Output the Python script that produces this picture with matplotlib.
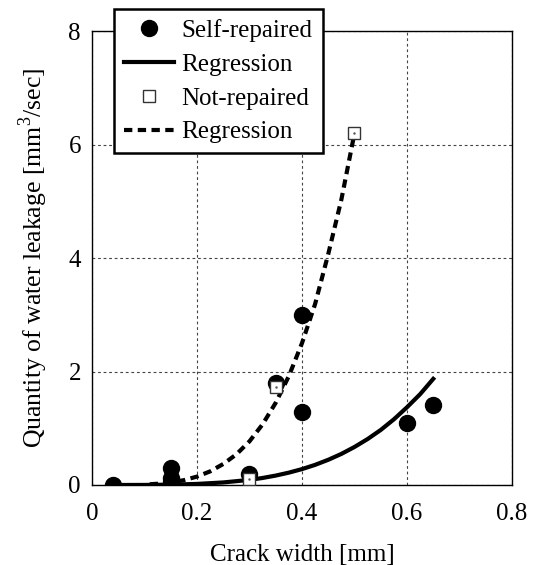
import matplotlib
matplotlib.use("Agg")
import matplotlib.pyplot as plt

plt.rcParams['font.family'] = ['Liberation Serif', 'DejaVu Serif']
plt.rcParams['mathtext.fontset'] = 'custom'
plt.rcParams['mathtext.rm'] = 'Liberation Serif'
plt.rcParams['font.size'] = 18

# Measured points (crack width [mm], leakage [mm3/sec])
self_x = [0.04, 0.15, 0.15, 0.15, 0.30, 0.35, 0.40, 0.40, 0.60, 0.65]
self_y = [0.0, 0.30, 0.12, 0.05, 0.19, 1.80, 3.00, 1.29, 1.10, 1.41]

not_x = [0.30, 0.35, 0.50]
not_y = [0.10, 1.72, 6.20]

# Regression curves
reg_self_x = [0.04, 0.10, 0.15, 0.20, 0.25, 0.30, 0.325, 0.35, 0.375, 0.40,
              0.425, 0.45, 0.475, 0.50, 0.525, 0.55, 0.575, 0.60, 0.625, 0.65]
reg_self_y = [0.0, 0.001, 0.006, 0.019, 0.045, 0.09, 0.124, 0.166, 0.218, 0.28,
              0.355, 0.444, 0.548, 0.67, 0.81, 0.97, 1.157, 1.37, 1.60, 1.87]

reg_not_x = [0.11, 0.125, 0.15, 0.175, 0.20, 0.225, 0.25, 0.275, 0.30, 0.325,
             0.35, 0.375, 0.40, 0.425, 0.45, 0.475, 0.50]
reg_not_y = [0.013, 0.022, 0.046, 0.085, 0.148, 0.24, 0.37, 0.54, 0.77, 1.07,
             1.45, 1.92, 2.50, 3.19, 4.07, 5.03, 6.20]

fig = plt.figure(figsize=(5.33, 5.65), dpi=100)
ax = fig.add_axes([0.1726, 0.1416, 0.788, 0.8035])

#Filled circles for self-repaired
h_self, = ax.plot(self_x, self_y, 'o', color='black', markersize=11.5,
                  linestyle='none', zorder=3, label='Self-repaired')

#Regression lines
h_rs, = ax.plot(reg_self_x, reg_self_y, '-', color='black', lw=3,
                zorder=4, label='Regression')
h_rn, = ax.plot(reg_not_x, reg_not_y, color='black', lw=3,
                dashes=(2.0, 1.3), zorder=4, label='Regression')

#Open squares for not-repaired, with the tiny centre dot
h_not, = ax.plot(not_x, not_y, 's', markerfacecolor='white',
                 markeredgecolor='#333333', markeredgewidth=1.0,
                 markersize=8, linestyle='none', zorder=5, label='Not-repaired')
ax.plot(not_x, not_y, '.', color='#555555', markersize=1.5, zorder=6)

ax.set_xlim(0, 0.8)
ax.set_ylim(0, 8)
ax.set_xticks([0, 0.2, 0.4, 0.6, 0.8])
ax.set_xticklabels(['0', '0.2', '0.4', '0.6', '0.8'])
ax.set_yticks([0, 2, 4, 6, 8])
ax.tick_params(length=0, labelsize=18)
ax.tick_params(axis='x', pad=13)
ax.tick_params(axis='y', pad=8)
ax.grid(True, color='#444444', linestyle=(0, (2.5, 2.5)), linewidth=0.8)
for s in ax.spines.values():
    s.set_linewidth(1.0)

ax.set_xlabel('Crack width [mm]', fontsize=18, labelpad=14)
ax.set_ylabel(r'Quantity of water leakage [mm$^3$/sec]', fontsize=18.5, labelpad=13)

leg = fig.legend([h_self, h_rs, h_not, h_rn],
                 ['Self-repaired', 'Regression', 'Not-repaired', 'Regression'],
                 loc='upper left', bbox_to_anchor=(0.2139, 0.984),
                 fancybox=False, framealpha=1, edgecolor='black',
                 handlelength=2.0, handletextpad=0.3, labelspacing=0.45,
                 borderpad=0.4, borderaxespad=0, fontsize=18)
leg.get_frame().set_linewidth(1.8)

fig.savefig('out.png', dpi=100)
